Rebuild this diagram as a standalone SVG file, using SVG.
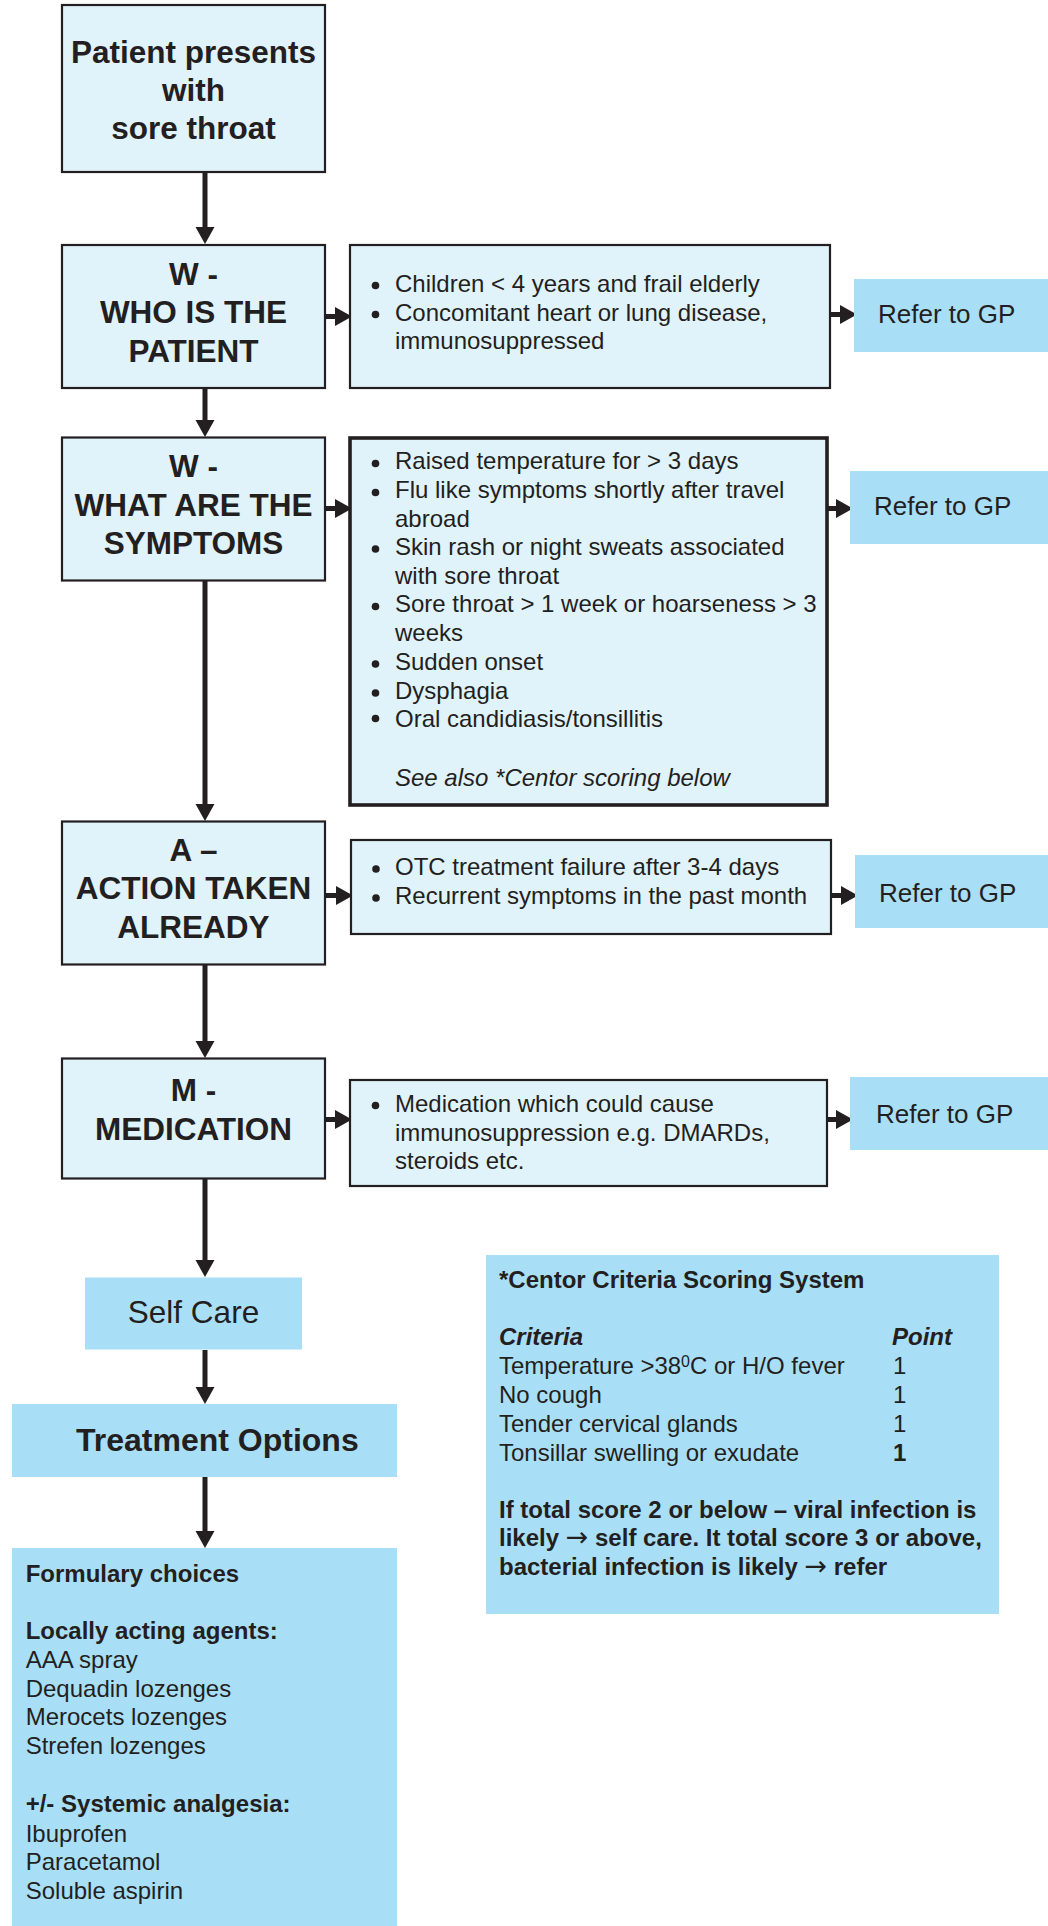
<svg xmlns="http://www.w3.org/2000/svg" width="1048" height="1926" viewBox="0 0 1048 1926">
<style>
text{font-family:"Liberation Sans",Arial,sans-serif;fill:#231F20}
.node{fill:#E0F2FA;stroke:#231F20;stroke-width:2.2}
.thick{stroke-width:3.6}
.fill{fill:#A9DEF7;stroke:none}
.h{font-size:31.5px;font-weight:bold;text-anchor:middle}
.b{font-size:24px}
.r{font-size:26px}
.bd{font-weight:bold}
.it{font-style:italic}
.arr{font-family:"DejaVu Sans",sans-serif;font-size:27px;font-weight:normal}
.dot{fill:#231F20}
.conn line{stroke:#231F20;stroke-width:5;marker-end:url(#ah)}
</style>
<defs>
<marker id="ah" markerUnits="userSpaceOnUse" viewBox="0 0 18 20" markerWidth="18" markerHeight="20" refX="6" refY="10" orient="auto">
<path d="M0,0.5 L17,10 L0,19.5 Z" fill="#231F20"/>
</marker>
</defs>
<rect width="1048" height="1926" fill="#FFFFFF"/>

<g id="connectors" class="conn">
<line x1="205" y1="173" x2="205" y2="233"/>
<line x1="205" y1="389" x2="205" y2="426"/>
<line x1="205" y1="581" x2="205" y2="810"/>
<line x1="205" y1="965" x2="205" y2="1047"/>
<line x1="205" y1="1179" x2="205" y2="1266"/>
<line x1="205" y1="1350" x2="205" y2="1393"/>
<line x1="205" y1="1477" x2="205" y2="1537"/>
<line x1="326" y1="316.5" x2="341" y2="316.5"/>
<line x1="830" y1="314.5" x2="846" y2="314.5"/>
<line x1="326" y1="508.5" x2="341" y2="508.5"/>
<line x1="828" y1="508.5" x2="842" y2="508.5"/>
<line x1="326" y1="895.5" x2="342" y2="895.5"/>
<line x1="832" y1="895.5" x2="847" y2="895.5"/>
<line x1="326" y1="1119.5" x2="341" y2="1119.5"/>
<line x1="827" y1="1119.5" x2="842" y2="1119.5"/>
</g>

<g id="start">
<rect class="node" x="62" y="5" width="263" height="167"/>
<text class="h" x="193.5" y="63">Patient presents</text>
<text class="h" x="193.5" y="101">with</text>
<text class="h" x="193.5" y="139">sore throat</text>
</g>

<g id="who">
<rect class="node" x="62" y="245" width="263" height="143"/>
<text class="h" x="193.5" y="285">W -</text>
<text class="h" x="193.5" y="323">WHO IS THE</text>
<text class="h" x="193.5" y="361.5">PATIENT</text>
</g>

<g id="who-criteria">
<rect class="node" x="350" y="245" width="480" height="143"/>
<circle class="dot" cx="375.5" cy="285.5" r="3.8"/>
<circle class="dot" cx="375.5" cy="314.5" r="3.8"/>
<text class="b" x="395" y="291.5">Children &lt; 4 years and frail elderly</text>
<text class="b" x="395" y="320.5">Concomitant heart or lung disease,</text>
<text class="b" x="395" y="349">immunosuppressed</text>
</g>

<g id="refer1">
<rect class="fill" x="854" y="279" width="194" height="73"/>
<text class="r" x="878" y="323">Refer to GP</text>
</g>

<g id="what">
<rect class="node" x="62" y="437.5" width="263" height="143"/>
<text class="h" x="193.5" y="476.5">W -</text>
<text class="h" x="193.5" y="516">WHAT ARE THE</text>
<text class="h" x="193.5" y="554">SYMPTOMS</text>
</g>

<g id="what-criteria">
<rect class="node thick" x="350" y="438" width="477" height="367"/>
<circle class="dot" cx="375.5" cy="463.5" r="3.8"/>
<circle class="dot" cx="375.5" cy="492.5" r="3.8"/>
<circle class="dot" cx="375.5" cy="549" r="3.8"/>
<circle class="dot" cx="375.5" cy="606.5" r="3.8"/>
<circle class="dot" cx="375.5" cy="664" r="3.8"/>
<circle class="dot" cx="375.5" cy="693" r="3.8"/>
<circle class="dot" cx="375.5" cy="718.5" r="3.8"/>
<text class="b" x="395" y="469.3">Raised temperature for &gt; 3 days</text>
<text class="b" x="395" y="498.3">Flu like symptoms shortly after travel</text>
<text class="b" x="395" y="526.7">abroad</text>
<text class="b" x="395" y="555">Skin rash or night sweats associated</text>
<text class="b" x="395" y="584">with sore throat</text>
<text class="b" x="395" y="612.3">Sore throat &gt; 1 week or hoarseness &gt; 3</text>
<text class="b" x="395" y="641">weeks</text>
<text class="b" x="395" y="670">Sudden onset</text>
<text class="b" x="395" y="699">Dysphagia</text>
<text class="b" x="395" y="727.3">Oral candidiasis/tonsillitis</text>
<text class="b it" x="395" y="785.7">See also *Centor scoring below</text>
</g>

<g id="refer2">
<rect class="fill" x="850" y="471" width="198" height="73"/>
<text class="r" x="874" y="515">Refer to GP</text>
</g>

<g id="action">
<rect class="node" x="62" y="821.5" width="263" height="143"/>
<text class="h" x="193.5" y="861">A –</text>
<text class="h" x="193.5" y="899.3">ACTION TAKEN</text>
<text class="h" x="193.5" y="937.7">ALREADY</text>
</g>

<g id="action-criteria">
<rect class="node" x="351" y="840" width="480" height="94"/>
<circle class="dot" cx="376" cy="869" r="3.8"/>
<circle class="dot" cx="376" cy="898" r="3.8"/>
<text class="b" x="395" y="875">OTC treatment failure after 3-4 days</text>
<text class="b" x="395" y="904.3">Recurrent symptoms in the past month</text>
</g>

<g id="refer3">
<rect class="fill" x="855" y="855" width="193" height="73"/>
<text class="r" x="879" y="901.7">Refer to GP</text>
</g>

<g id="medication">
<rect class="node" x="62" y="1058.5" width="263" height="120"/>
<text class="h" x="193.5" y="1101">M -</text>
<text class="h" x="193.5" y="1139.5">MEDICATION</text>
</g>

<g id="medication-criteria">
<rect class="node" x="350" y="1080" width="477" height="106"/>
<circle class="dot" cx="375.5" cy="1105.5" r="3.8"/>
<text class="b" x="395" y="1111.7">Medication which could cause</text>
<text class="b" x="395" y="1140.7">immunosuppression e.g. DMARDs,</text>
<text class="b" x="395" y="1169.3">steroids etc.</text>
</g>

<g id="refer4">
<rect class="fill" x="850" y="1077" width="198" height="73"/>
<text class="r" x="876" y="1123">Refer to GP</text>
</g>

<g id="self-care">
<rect class="fill" x="85" y="1277.5" width="217" height="72"/>
<text x="193.5" y="1322.5" font-size="31.5" text-anchor="middle">Self Care</text>
</g>

<g id="treatment-options">
<rect class="fill" x="12" y="1404" width="385" height="73"/>
<text x="76" y="1450.7" font-size="32" font-weight="bold">Treatment Options</text>
</g>

<g id="formulary">
<rect class="fill" x="12" y="1548" width="385" height="378"/>
<text class="b bd" x="25.7" y="1581.7">Formulary choices</text>
<text class="b bd" x="25.7" y="1639.3">Locally acting agents:</text>
<text class="b" x="25.7" y="1667.7">AAA spray</text>
<text class="b" x="25.7" y="1696.7">Dequadin lozenges</text>
<text class="b" x="25.7" y="1725">Merocets lozenges</text>
<text class="b" x="25.7" y="1754">Strefen lozenges</text>
<text class="b bd" x="25.7" y="1812.3">+/- Systemic analgesia:</text>
<text class="b" x="25.7" y="1841.7">Ibuprofen</text>
<text class="b" x="25.7" y="1870">Paracetamol</text>
<text class="b" x="25.7" y="1899">Soluble aspirin</text>
</g>

<g id="centor">
<rect class="fill" x="486" y="1255" width="513" height="359"/>
<text class="b bd" x="499" y="1288.3">*Centor Criteria Scoring System</text>
<text class="b bd it" x="499" y="1345">Criteria</text>
<text class="b bd it" x="892" y="1345">Point</text>
<text class="b" x="499" y="1374.3">Temperature &gt;38<tspan font-size="16" dy="-7">0</tspan><tspan dy="7">C or H/O fever</tspan></text>
<text class="b" x="893" y="1374.3">1</text>
<text class="b" x="499" y="1403.3">No cough</text>
<text class="b" x="893" y="1403.3">1</text>
<text class="b" x="499" y="1432.3">Tender cervical glands</text>
<text class="b" x="893" y="1432.3">1</text>
<text class="b" x="499" y="1461">Tonsillar swelling or exudate</text>
<text class="b bd" x="893" y="1461">1</text>
<text class="b bd" x="499" y="1517.7">If total score 2 or below – viral infection is</text>
<text class="b bd" x="499" y="1546">likely <tspan class="arr">→</tspan> self care. It total score 3 or above,</text>
<text class="b bd" x="499" y="1575">bacterial infection is likely <tspan class="arr">→</tspan> refer</text>
</g>
</svg>
